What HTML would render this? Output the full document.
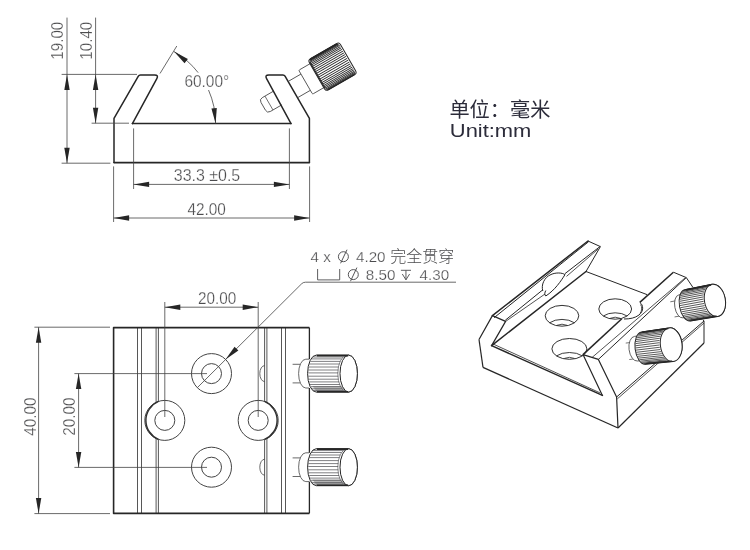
<!DOCTYPE html>
<html><head><meta charset="utf-8"><title>Dovetail clamp drawing</title>
<style>
html,body{margin:0;padding:0;background:#fff;}
body{width:750px;height:550px;overflow:hidden;}
svg{display:block;font-family:"Liberation Sans",sans-serif;}
svg{will-change:transform;}
text.d{stroke:#fff;stroke-width:0.25px;paint-order:fill stroke;}
</style></head><body>
<svg width="750" height="550" viewBox="0 0 750 550">
<rect width="750" height="550" fill="#fff"/>
<g transform="translate(332.5 66.7) rotate(-30)">
<path d="M-63 -8.3 L-76.3 -8.3 Q-79.8 -8.3 -79.8 -4.8 L-79.8 4.2 Q-79.8 7.7 -76.3 7.7 L-63 7.7" stroke="#444444" stroke-width="0.8" fill="none" />
<line x1="-73.2" y1="-8.3" x2="-73.2" y2="7.7" stroke="#444444" stroke-width="0.7" />
</g>
<path d="M114 162.6 L114 118.4 L138.36 76.2 Q139.06 75 140.44 75 L154.64 75 Q158.8 75 156.82 78.65 L132.4 123.6 " stroke="#262626" stroke-width="1.5" fill="none" stroke-linejoin="round" stroke-linecap="round"/>
<path d="M309.4 162.6 L309.4 118.4 L285.04 76.2 Q284.34 75 282.96 75 L268.76 75 Q264.6 75 266.58 78.65 L291 123.6 " stroke="#262626" stroke-width="1.5" fill="none" stroke-linejoin="round" stroke-linecap="round"/>
<line x1="132.4" y1="123.6" x2="291" y2="123.6" stroke="#262626" stroke-width="1.5" stroke-linecap="round"/>
<line x1="114" y1="162.6" x2="309.4" y2="162.6" stroke="#262626" stroke-width="1.6" stroke-linecap="round"/>
<line x1="67" y1="17.6" x2="67" y2="163.2" stroke="#444444" stroke-width="0.8" />
<line x1="95.6" y1="17.6" x2="95.6" y2="123.2" stroke="#444444" stroke-width="0.8" />
<line x1="61.6" y1="74.4" x2="137" y2="74.4" stroke="#444444" stroke-width="0.8" />
<line x1="61.6" y1="163.2" x2="110.4" y2="163.2" stroke="#444444" stroke-width="0.8" />
<line x1="91.6" y1="123.2" x2="129" y2="123.2" stroke="#444444" stroke-width="0.8" />
<polygon points="67,74.4 64.3,89.9 69.7,89.9" fill="#262626"/>
<polygon points="67,163.2 69.7,147.7 64.3,147.7" fill="#262626"/>
<polygon points="95.6,74.4 92.9,89.9 98.3,89.9" fill="#262626"/>
<polygon points="95.6,123.2 98.3,107.7 92.9,107.7" fill="#262626"/>
<text x="63.4" y="59.7" font-size="16" fill="#4c4c4e" text-anchor="start" transform="rotate(-90 63.4 59.7)" class="d" textLength="38" lengthAdjust="spacingAndGlyphs">19.00</text>
<text x="92.2" y="59.7" font-size="16" fill="#4c4c4e" text-anchor="start" transform="rotate(-90 92.2 59.7)" class="d" textLength="38" lengthAdjust="spacingAndGlyphs">10.40</text>
<line x1="160" y1="73.5" x2="176.8" y2="46" stroke="#444444" stroke-width="0.8" />
<path d="M174 51.55 A83.2 83.2 0 0 1 198.14 72.61" stroke="#444444" stroke-width="0.8" fill="none" />
<path d="M208.52 90.03 A83.2 83.2 0 0 1 215.6 123.6" stroke="#444444" stroke-width="0.8" fill="none" />
<polygon points="174,51.55 184.55,63.22 187.88,58.96" fill="#262626"/>
<polygon points="215.6,123.6 216.8,107.91 211.43,108.43" fill="#262626"/>
<text x="184.4" y="87.3" font-size="16" fill="#4c4c4e" text-anchor="start" class="d" textLength="44.8" lengthAdjust="spacingAndGlyphs">60.00°</text>
<line x1="133.6" y1="128.4" x2="133.6" y2="189" stroke="#444444" stroke-width="0.8" />
<line x1="289.4" y1="128.4" x2="289.4" y2="189" stroke="#444444" stroke-width="0.8" />
<line x1="133.6" y1="184.4" x2="289.4" y2="184.4" stroke="#444444" stroke-width="0.8" />
<polygon points="133.6,184.4 149.1,187.1 149.1,181.7" fill="#262626"/>
<polygon points="289.4,184.4 273.9,181.7 273.9,187.1" fill="#262626"/>
<text x="173.8" y="181.2" font-size="16" fill="#4c4c4e" text-anchor="start" class="d" textLength="66.4" lengthAdjust="spacingAndGlyphs">33.3 ±0.5</text>
<line x1="113.6" y1="166.4" x2="113.6" y2="222" stroke="#444444" stroke-width="0.8" />
<line x1="309.6" y1="166.4" x2="309.6" y2="222" stroke="#444444" stroke-width="0.8" />
<line x1="113.6" y1="218" x2="309.6" y2="218" stroke="#444444" stroke-width="0.8" />
<polygon points="113.6,218 129.1,220.7 129.1,215.3" fill="#262626"/>
<polygon points="309.6,218 294.1,215.3 294.1,220.7" fill="#262626"/>
<text x="187.5" y="214.8" font-size="16" fill="#4c4c4e" text-anchor="start" class="d" textLength="38.4" lengthAdjust="spacingAndGlyphs">42.00</text>
<g transform="translate(332.5 66.7) rotate(-30)">
<line x1="-45.5" y1="-9.4" x2="-31" y2="-9.4" stroke="#444444" stroke-width="0.8" />
<line x1="-45.5" y1="9.4" x2="-31" y2="9.4" stroke="#444444" stroke-width="0.8" />
<path d="M-18 -13.8 L-30 -13.8 Q-31 -13.8 -31 -12.8 L-31 12.8 Q-31 13.8 -30 13.8 L-18 13.8" stroke="#444444" stroke-width="0.8" fill="#fff" />
<path d="M-15.0 -18 L15.0 -18 Q18 -18 18 -15.0 L18 15.0 Q18 18 15.0 18 L-15.0 18 Q-18 18 -18 15.0 L-18 -15.0 Q-18 -18 -15.0 -18 Z" stroke="#262626" stroke-width="1.0" fill="#fff" />
<line x1="-15.08" y1="-17.87" x2="14.68" y2="-17.87" stroke="#262626" stroke-width="0.9" />
<line x1="-15.89" y1="-17.48" x2="15.49" y2="-17.48" stroke="#262626" stroke-width="0.9" />
<line x1="-16.58" y1="-16.83" x2="16.18" y2="-16.83" stroke="#262626" stroke-width="0.9" />
<line x1="-17.05" y1="-15.94" x2="16.65" y2="-15.94" stroke="#262626" stroke-width="0.9" />
<line x1="-17.2" y1="-14.81" x2="16.8" y2="-14.81" stroke="#262626" stroke-width="0.9" />
<line x1="-17.2" y1="-13.47" x2="16.8" y2="-13.47" stroke="#262626" stroke-width="0.9" />
<line x1="-17.2" y1="-11.94" x2="16.8" y2="-11.94" stroke="#262626" stroke-width="0.9" />
<line x1="-17.2" y1="-10.23" x2="16.8" y2="-10.23" stroke="#262626" stroke-width="0.9" />
<line x1="-17.2" y1="-8.37" x2="16.8" y2="-8.37" stroke="#262626" stroke-width="0.9" />
<line x1="-17.2" y1="-6.38" x2="16.8" y2="-6.38" stroke="#262626" stroke-width="0.9" />
<line x1="-17.2" y1="-4.31" x2="16.8" y2="-4.31" stroke="#262626" stroke-width="0.9" />
<line x1="-17.2" y1="-2.17" x2="16.8" y2="-2.17" stroke="#262626" stroke-width="0.9" />
<line x1="-17.2" y1="0" x2="16.8" y2="0" stroke="#262626" stroke-width="0.9" />
<line x1="-17.2" y1="2.17" x2="16.8" y2="2.17" stroke="#262626" stroke-width="0.9" />
<line x1="-17.2" y1="4.31" x2="16.8" y2="4.31" stroke="#262626" stroke-width="0.9" />
<line x1="-17.2" y1="6.38" x2="16.8" y2="6.38" stroke="#262626" stroke-width="0.9" />
<line x1="-17.2" y1="8.37" x2="16.8" y2="8.37" stroke="#262626" stroke-width="0.9" />
<line x1="-17.2" y1="10.23" x2="16.8" y2="10.23" stroke="#262626" stroke-width="0.9" />
<line x1="-17.2" y1="11.94" x2="16.8" y2="11.94" stroke="#262626" stroke-width="0.9" />
<line x1="-17.2" y1="13.47" x2="16.8" y2="13.47" stroke="#262626" stroke-width="0.9" />
<line x1="-17.2" y1="14.81" x2="16.8" y2="14.81" stroke="#262626" stroke-width="0.9" />
<line x1="-17.05" y1="15.94" x2="16.65" y2="15.94" stroke="#262626" stroke-width="0.9" />
<line x1="-16.58" y1="16.83" x2="16.18" y2="16.83" stroke="#262626" stroke-width="0.9" />
<line x1="-15.89" y1="17.48" x2="15.49" y2="17.48" stroke="#262626" stroke-width="0.9" />
<line x1="-15.08" y1="17.87" x2="14.68" y2="17.87" stroke="#262626" stroke-width="0.9" />
<line x1="-16" y1="-17.1" x2="15.5" y2="-17.1" stroke="#262626" stroke-width="1.3" />
<line x1="-17.2" y1="-15.5" x2="-17.2" y2="15" stroke="#262626" stroke-width="1.2" />
</g>
<line x1="137.5" y1="327.6" x2="137.5" y2="513.4" stroke="#444444" stroke-width="0.9" />
<line x1="285.5" y1="327.6" x2="285.5" y2="513.4" stroke="#444444" stroke-width="0.9" />
<line x1="141.5" y1="327.6" x2="141.5" y2="513.4" stroke="#444444" stroke-width="0.9" />
<line x1="281.5" y1="327.6" x2="281.5" y2="513.4" stroke="#444444" stroke-width="0.9" />
<line x1="156.1" y1="327.6" x2="156.1" y2="402.39" stroke="#444444" stroke-width="0.9" />
<line x1="156.1" y1="438.41" x2="156.1" y2="513.4" stroke="#444444" stroke-width="0.9" />
<line x1="266.9" y1="327.6" x2="266.9" y2="402.39" stroke="#444444" stroke-width="0.9" />
<line x1="266.9" y1="438.41" x2="266.9" y2="513.4" stroke="#444444" stroke-width="0.9" />
<line x1="158.4" y1="327.6" x2="158.4" y2="401.45" stroke="#444444" stroke-width="0.9" />
<line x1="158.4" y1="439.35" x2="158.4" y2="513.4" stroke="#444444" stroke-width="0.9" />
<line x1="264.6" y1="327.6" x2="264.6" y2="401.45" stroke="#444444" stroke-width="0.9" />
<line x1="264.6" y1="439.35" x2="264.6" y2="513.4" stroke="#444444" stroke-width="0.9" />
<circle cx="164.8" cy="420.4" r="20" fill="none" stroke="#444444" stroke-width="1"/>
<circle cx="164.8" cy="420.4" r="10" fill="none" stroke="#444444" stroke-width="1"/>
<circle cx="258.2" cy="420.4" r="20" fill="none" stroke="#444444" stroke-width="1"/>
<circle cx="258.2" cy="420.4" r="10" fill="none" stroke="#444444" stroke-width="1"/>
<circle cx="211.5" cy="373.6" r="20" fill="none" stroke="#444444" stroke-width="1"/>
<circle cx="211.5" cy="373.6" r="10" fill="none" stroke="#444444" stroke-width="1"/>
<circle cx="211.5" cy="467.2" r="20" fill="none" stroke="#444444" stroke-width="1"/>
<circle cx="211.5" cy="467.2" r="10" fill="none" stroke="#444444" stroke-width="1"/>
<path d="M158.4 401.45 A20.6 20.6 0 0 0 158.4 439.35" stroke="#303030" stroke-width="1.45" fill="none" />
<path d="M264.6 401.45 A20.6 20.6 0 0 1 264.6 439.35" stroke="#303030" stroke-width="1.45" fill="none" />
<path d="M264.6 365.6 A4.8 8 0 0 0 264.6 381.6" stroke="#444444" stroke-width="0.8" fill="none" />
<path d="M264.6 459.2 A4.8 8 0 0 0 264.6 475.2" stroke="#444444" stroke-width="0.8" fill="none" />
<path d="M309.4 327.6 L113.6 327.6 L113.6 513.4 L309.4 513.4" stroke="#262626" stroke-width="1.6" fill="none" stroke-linejoin="round"/>
<line x1="309.4" y1="327.6" x2="309.4" y2="359.2" stroke="#262626" stroke-width="1.3" />
<line x1="309.4" y1="388" x2="309.4" y2="452.8" stroke="#262626" stroke-width="1.3" />
<line x1="309.4" y1="481.6" x2="309.4" y2="513.4" stroke="#262626" stroke-width="1.3" />
<line x1="164.8" y1="302" x2="164.8" y2="417" stroke="#444444" stroke-width="0.8" />
<line x1="258.2" y1="302" x2="258.2" y2="417" stroke="#444444" stroke-width="0.8" />
<line x1="164.8" y1="307.2" x2="258.2" y2="307.2" stroke="#444444" stroke-width="0.8" />
<polygon points="164.8,307.2 180.3,309.9 180.3,304.5" fill="#262626"/>
<polygon points="258.2,307.2 242.7,304.5 242.7,309.9" fill="#262626"/>
<text x="198.1" y="304" font-size="16" fill="#4c4c4e" text-anchor="start" class="d" textLength="38.2" lengthAdjust="spacingAndGlyphs">20.00</text>
<line x1="38.6" y1="327.2" x2="38.6" y2="513.6" stroke="#444444" stroke-width="0.8" />
<line x1="34.4" y1="327.2" x2="110" y2="327.2" stroke="#444444" stroke-width="0.8" />
<line x1="34.4" y1="513.6" x2="110" y2="513.6" stroke="#444444" stroke-width="0.8" />
<polygon points="38.6,327.2 35.9,342.7 41.3,342.7" fill="#262626"/>
<polygon points="38.6,513.6 41.3,498.1 35.9,498.1" fill="#262626"/>
<text x="35.6" y="435.8" font-size="16" fill="#4c4c4e" text-anchor="start" transform="rotate(-90 35.6 435.8)" class="d" textLength="38.2" lengthAdjust="spacingAndGlyphs">40.00</text>
<line x1="78.6" y1="373.6" x2="78.6" y2="467.4" stroke="#444444" stroke-width="0.8" />
<line x1="74.4" y1="373.6" x2="207" y2="373.6" stroke="#444444" stroke-width="0.8" />
<line x1="74.4" y1="467.4" x2="207" y2="467.4" stroke="#444444" stroke-width="0.8" />
<polygon points="78.6,373.6 75.9,389.1 81.3,389.1" fill="#262626"/>
<polygon points="78.6,467.4 81.3,451.9 75.9,451.9" fill="#262626"/>
<text x="75.2" y="435.8" font-size="16" fill="#4c4c4e" text-anchor="start" transform="rotate(-90 75.2 435.8)" class="d" textLength="38.2" lengthAdjust="spacingAndGlyphs">20.00</text>
<path d="M456 282.2 L305.5 282.2 Q303 282.2 301.5 283.9 L197.3 387.7" stroke="#444444" stroke-width="0.8" fill="none" />
<polygon points="225.5,359.5 238.37,350.45 234.55,346.63" fill="#262626"/>
<line x1="292.6" y1="364.3" x2="300.2" y2="364.3" stroke="#444444" stroke-width="0.8" />
<line x1="292.6" y1="382.9" x2="300.2" y2="382.9" stroke="#444444" stroke-width="0.8" />
<path d="M309 359.2 L305.8 359.2 A7.2 14.4 0 0 0 305.8 388 L309 388" stroke="#444444" stroke-width="0.8" fill="#fff" />
<path d="M316.3 355.1 L348.7 355.1 A8.7 18.5 0 0 1 348.7 392.1 L316.3 392.1 A8.7 18.5 0 0 1 316.3 355.1 Z" stroke="#262626" stroke-width="1.0" fill="#fff" />
<path d="M312.3 385.9 L342.2 385.9 L346.7 391.6 L316.8 391.6 Z" fill="#8a8a8a" opacity="0.55"/>
<line x1="313.16" y1="357" x2="342.96" y2="357" stroke="#3a3a40" stroke-width="0.65" />
<line x1="311.72" y1="358.9" x2="341.52" y2="358.9" stroke="#3a3a40" stroke-width="0.65" />
<line x1="310.46" y1="361.4" x2="340.26" y2="361.4" stroke="#3a3a40" stroke-width="0.65" />
<line x1="309.56" y1="364" x2="339.36" y2="364" stroke="#3a3a40" stroke-width="0.65" />
<line x1="308.87" y1="367" x2="338.67" y2="367" stroke="#3a3a40" stroke-width="0.65" />
<line x1="308.47" y1="370" x2="338.27" y2="370" stroke="#3a3a40" stroke-width="0.65" />
<line x1="308.31" y1="372.9" x2="338.11" y2="372.9" stroke="#3a3a40" stroke-width="0.65" />
<line x1="308.39" y1="376.2" x2="338.19" y2="376.2" stroke="#3a3a40" stroke-width="0.65" />
<line x1="308.71" y1="379.2" x2="338.51" y2="379.2" stroke="#3a3a40" stroke-width="0.65" />
<line x1="309.22" y1="381.9" x2="339.02" y2="381.9" stroke="#3a3a40" stroke-width="0.65" />
<line x1="309.97" y1="384.5" x2="339.77" y2="384.5" stroke="#3a3a40" stroke-width="0.65" />
<line x1="310.86" y1="386.7" x2="340.66" y2="386.7" stroke="#3a3a40" stroke-width="0.65" />
<line x1="312.04" y1="388.8" x2="341.84" y2="388.8" stroke="#3a3a40" stroke-width="0.65" />
<line x1="313.36" y1="390.4" x2="343.16" y2="390.4" stroke="#3a3a40" stroke-width="0.65" />
<path d="M346.5 355.7 A8.7 17.9 0 0 0 346.5 391.5" stroke="#3a3a40" stroke-width="0.6" fill="none" />
<ellipse cx="348.7" cy="373.6" rx="8.7" ry="18.5" fill="#fff" stroke="#262626" stroke-width="1.0"/>
<line x1="316.8" y1="355.6" x2="348.2" y2="355.6" stroke="#262626" stroke-width="1.7" />
<line x1="316.8" y1="391.7" x2="348.2" y2="391.7" stroke="#262626" stroke-width="1.5" />
<line x1="292.6" y1="457.9" x2="300.2" y2="457.9" stroke="#444444" stroke-width="0.8" />
<line x1="292.6" y1="476.5" x2="300.2" y2="476.5" stroke="#444444" stroke-width="0.8" />
<path d="M309 452.8 L305.8 452.8 A7.2 14.4 0 0 0 305.8 481.6 L309 481.6" stroke="#444444" stroke-width="0.8" fill="#fff" />
<path d="M316.3 448.7 L348.7 448.7 A8.7 18.5 0 0 1 348.7 485.7 L316.3 485.7 A8.7 18.5 0 0 1 316.3 448.7 Z" stroke="#262626" stroke-width="1.0" fill="#fff" />
<path d="M312.3 479.5 L342.2 479.5 L346.7 485.2 L316.8 485.2 Z" fill="#8a8a8a" opacity="0.55"/>
<line x1="313.16" y1="450.6" x2="342.96" y2="450.6" stroke="#3a3a40" stroke-width="0.65" />
<line x1="311.72" y1="452.5" x2="341.52" y2="452.5" stroke="#3a3a40" stroke-width="0.65" />
<line x1="310.46" y1="455" x2="340.26" y2="455" stroke="#3a3a40" stroke-width="0.65" />
<line x1="309.56" y1="457.6" x2="339.36" y2="457.6" stroke="#3a3a40" stroke-width="0.65" />
<line x1="308.87" y1="460.6" x2="338.67" y2="460.6" stroke="#3a3a40" stroke-width="0.65" />
<line x1="308.47" y1="463.6" x2="338.27" y2="463.6" stroke="#3a3a40" stroke-width="0.65" />
<line x1="308.31" y1="466.5" x2="338.11" y2="466.5" stroke="#3a3a40" stroke-width="0.65" />
<line x1="308.39" y1="469.8" x2="338.19" y2="469.8" stroke="#3a3a40" stroke-width="0.65" />
<line x1="308.71" y1="472.8" x2="338.51" y2="472.8" stroke="#3a3a40" stroke-width="0.65" />
<line x1="309.22" y1="475.5" x2="339.02" y2="475.5" stroke="#3a3a40" stroke-width="0.65" />
<line x1="309.97" y1="478.1" x2="339.77" y2="478.1" stroke="#3a3a40" stroke-width="0.65" />
<line x1="310.86" y1="480.3" x2="340.66" y2="480.3" stroke="#3a3a40" stroke-width="0.65" />
<line x1="312.04" y1="482.4" x2="341.84" y2="482.4" stroke="#3a3a40" stroke-width="0.65" />
<line x1="313.36" y1="484" x2="343.16" y2="484" stroke="#3a3a40" stroke-width="0.65" />
<path d="M346.5 449.3 A8.7 17.9 0 0 0 346.5 485.1" stroke="#3a3a40" stroke-width="0.6" fill="none" />
<ellipse cx="348.7" cy="467.2" rx="8.7" ry="18.5" fill="#fff" stroke="#262626" stroke-width="1.0"/>
<line x1="316.8" y1="449.2" x2="348.2" y2="449.2" stroke="#262626" stroke-width="1.7" />
<line x1="316.8" y1="485.3" x2="348.2" y2="485.3" stroke="#262626" stroke-width="1.5" />
<text x="449.4" y="117.2" font-size="20.2" fill="#2c2c3a" text-anchor="start" style="font-family:'Liberation Sans','Noto Sans CJK SC',sans-serif">单位：毫米</text>
<text x="449.8" y="137" font-size="19" fill="#2c2c3a" text-anchor="start" textLength="81.6" lengthAdjust="spacingAndGlyphs">Unit:mm</text>
<text x="310.6" y="262.2" font-size="15.2" fill="#4c4c4e" text-anchor="start" class="d">4 x</text>
<circle cx="343.4" cy="256.7" r="5" fill="none" stroke="#4c4c4e" stroke-width="0.95"/>
<line x1="340.6" y1="263.3" x2="347" y2="249.7" stroke="#4c4c4e" stroke-width="0.95" />
<text x="356" y="262.2" font-size="15.2" fill="#4c4c4e" text-anchor="start" class="d">4.20</text>
<text x="390.3" y="261.6" font-size="16" fill="#4c4c4e" text-anchor="start" style="font-family:'Liberation Sans','Noto Sans CJK SC',sans-serif;font-weight:300">完全贯穿</text>
<path d="M317.6 269 L317.6 279.9 L339.7 279.9 L339.7 269" stroke="#4c4c4e" stroke-width="0.9" fill="none" />
<circle cx="353.3" cy="274.6" r="5" fill="none" stroke="#4c4c4e" stroke-width="0.95"/>
<line x1="350.5" y1="281.2" x2="356.9" y2="267.6" stroke="#4c4c4e" stroke-width="0.95" />
<text x="365.8" y="279.7" font-size="15.2" fill="#4c4c4e" text-anchor="start" class="d">8.50</text>
<path d="M400.9 270.3 L411 270.3 M405.95 270.3 L405.95 279.8 M402.3 274 L405.95 279.8 L409.6 274" stroke="#4c4c4e" stroke-width="0.9" fill="none" />
<text x="419.6" y="279.7" font-size="15.2" fill="#4c4c4e" text-anchor="start" class="d">4.30</text>
<path d="M586 271.5 L647 294.6" stroke="#262626" stroke-width="1.0" fill="none" />
<ellipse cx="562" cy="315.8" rx="16.8" ry="10.4" fill="#fff" stroke="#262626" stroke-width="0.95"/>
<path d="M549.58 322.8 A16.8 10.4 0 0 1 574.42 322.8" stroke="#262626" stroke-width="0.9" fill="none" />
<path d="M557 325.3 A8.4 5 0 0 1 567 325.3" stroke="#262626" stroke-width="0.8" fill="none" />
<ellipse cx="615.2" cy="309" rx="16.4" ry="10.2" fill="#fff" stroke="#262626" stroke-width="0.95"/>
<path d="M603.27 316 A16.4 10.2 0 0 1 627.13 316" stroke="#262626" stroke-width="0.9" fill="none" />
<path d="M610.2 318.3 A8.4 5 0 0 1 620.2 318.3" stroke="#262626" stroke-width="0.8" fill="none" />
<ellipse cx="569.4" cy="348.9" rx="17.5" ry="10.4" fill="#fff" stroke="#262626" stroke-width="0.95"/>
<path d="M556.46 355.9 A17.5 10.4 0 0 1 582.34 355.9" stroke="#262626" stroke-width="0.9" fill="none" />
<path d="M564.4 358.4 A8.4 5 0 0 1 574.4 358.4" stroke="#262626" stroke-width="0.8" fill="none" />
<path d="M492.4 315.6 L588 241" stroke="#262626" stroke-width="1.5" fill="none" stroke-linecap="round"/>
<path d="M494.1 317.7 L588.5 241.8" stroke="#262626" stroke-width="1.0" fill="none" />
<path d="M505.3 320.2 L542.8 289.8" stroke="#262626" stroke-width="1.0" fill="none" />
<path d="M565 273.6 L600.2 246.4" stroke="#262626" stroke-width="1.0" fill="none" />
<path d="M505.6 321.4 L545 294" stroke="#262626" stroke-width="0.8" fill="none" />
<path d="M566.5 276.4 L598 249.2" stroke="#262626" stroke-width="0.8" fill="none" />
<path d="M542.8 291 C541 285 544 277.5 551 274.5 C556 272.3 562 272.6 565 274.6 C561 281 555 290 545.8 296 C544.3 295 544.6 292.5 545.8 290.5" stroke="#262626" stroke-width="1.0" fill="none" />
<path d="M491.6 345.6 L586 271.5" stroke="#262626" stroke-width="1.5" fill="none" stroke-linecap="round"/>
<path d="M588 241 L600.4 246.6 L586 271.5" stroke="#262626" stroke-width="1.0" fill="none" stroke-linejoin="round"/>
<path d="M479 339.5 L492.4 315.6 L505.6 321.4 L491.6 345.6" stroke="#262626" stroke-width="1.2" fill="none" stroke-linejoin="round"/>
<path d="M479 339.5 L483 367.4" stroke="#262626" stroke-width="1.2" fill="none" />
<path d="M491.6 345.6 L602.4 395.4" stroke="#262626" stroke-width="1.5" fill="none" stroke-linecap="round"/>
<path d="M493.1 344 L599.9 392.8" stroke="#262626" stroke-width="0.8" fill="none" />
<path d="M483 367.4 L618 428" stroke="#262626" stroke-width="1.3" fill="none" />
<path d="M602.4 395.4 L583 354.6 L598.4 359.4 L616.6 397 L618 428" stroke="#262626" stroke-width="1.2" fill="none" stroke-linejoin="round"/>
<path d="M583 354.6 L621.8 318.8" stroke="#262626" stroke-width="1.5" fill="none" />
<path d="M639.8 302.4 L673.4 272.2" stroke="#262626" stroke-width="1.5" fill="none" />
<path d="M639.8 302.4 C643.5 305 644 311 639 315 C635 318 630 319 624 319" stroke="#262626" stroke-width="1.0" fill="none" />
<path d="M640.6 304.5 C642.3 307 642 311 640 313.5" stroke="#262626" stroke-width="0.8" fill="none" />
<path d="M592 357.5 L685 278" stroke="#262626" stroke-width="0.8" fill="none" />
<path d="M598.4 359.4 L686.3 277.6" stroke="#262626" stroke-width="1.0" fill="none" />
<path d="M673.4 272.2 L686.3 277.6" stroke="#262626" stroke-width="1.0" fill="none" />
<path d="M686.3 277.6 L692.8 287.2" stroke="#262626" stroke-width="1.0" fill="none" />
<path d="M703.2 320 L704 321 L704 343" stroke="#262626" stroke-width="1.0" fill="none" />
<path d="M616.6 397 L704 321" stroke="#262626" stroke-width="1.0" fill="none" />
<path d="M617.4 398.8 L704 323" stroke="#262626" stroke-width="0.8" fill="none" />
<path d="M618 428 L704 343" stroke="#262626" stroke-width="1.2" fill="none" />
<g transform="translate(680.8 306.4) rotate(-10.21)">
<line x1="-9.5" y1="-6.38" x2="-4" y2="-6.38" stroke="#444444" stroke-width="0.7" />
<line x1="-8" y1="9.28" x2="-2.5" y2="9.28" stroke="#444444" stroke-width="0.7" />
<path d="M4 -11.6 L0 -11.6 A6 11.6 0 0 0 0 11.6 L4 11.6" stroke="#444444" stroke-width="0.8" fill="#fff" />
</g>
<g transform="translate(687.7 305.3) rotate(-10.21)">
<path d="M0 -15.9 L27.64 -16.3 A10.43 16.3 0 0 1 27.64 16.3 L0 15.9 A8.27 15.9 0 0 1 0 -15.9 Z" stroke="#262626" stroke-width="1.0" fill="#fff" />
<line x1="0.6" y1="-15.9" x2="26.84" y2="-16.3" stroke="#262626" stroke-width="0.72" />
<line x1="-0.53" y1="-15.75" x2="25.42" y2="-16.15" stroke="#262626" stroke-width="0.72" />
<line x1="-1.63" y1="-15.31" x2="24.02" y2="-15.7" stroke="#262626" stroke-width="0.72" />
<line x1="-2.69" y1="-14.58" x2="22.68" y2="-14.95" stroke="#262626" stroke-width="0.72" />
<line x1="-3.7" y1="-13.59" x2="21.42" y2="-13.93" stroke="#262626" stroke-width="0.72" />
<line x1="-4.62" y1="-12.33" x2="20.25" y2="-12.64" stroke="#262626" stroke-width="0.72" />
<line x1="-5.44" y1="-10.85" x2="19.21" y2="-11.13" stroke="#262626" stroke-width="0.72" />
<line x1="-6.15" y1="-9.17" x2="18.32" y2="-9.4" stroke="#262626" stroke-width="0.72" />
<line x1="-6.74" y1="-7.32" x2="17.58" y2="-7.5" stroke="#262626" stroke-width="0.72" />
<line x1="-7.19" y1="-5.32" x2="17.01" y2="-5.46" stroke="#262626" stroke-width="0.72" />
<line x1="-7.5" y1="-3.23" x2="16.62" y2="-3.32" stroke="#262626" stroke-width="0.72" />
<line x1="-7.65" y1="-1.09" x2="16.43" y2="-1.11" stroke="#262626" stroke-width="0.72" />
<line x1="-7.65" y1="1.09" x2="16.43" y2="1.11" stroke="#262626" stroke-width="0.72" />
<line x1="-7.5" y1="3.23" x2="16.62" y2="3.32" stroke="#262626" stroke-width="0.72" />
<line x1="-7.19" y1="5.32" x2="17.01" y2="5.46" stroke="#262626" stroke-width="0.72" />
<line x1="-6.74" y1="7.32" x2="17.58" y2="7.5" stroke="#262626" stroke-width="0.72" />
<line x1="-6.15" y1="9.17" x2="18.32" y2="9.4" stroke="#262626" stroke-width="0.72" />
<line x1="-5.44" y1="10.85" x2="19.21" y2="11.13" stroke="#262626" stroke-width="0.72" />
<line x1="-4.62" y1="12.33" x2="20.25" y2="12.64" stroke="#262626" stroke-width="0.72" />
<line x1="-3.7" y1="13.59" x2="21.42" y2="13.93" stroke="#262626" stroke-width="0.72" />
<line x1="-2.69" y1="14.58" x2="22.68" y2="14.95" stroke="#262626" stroke-width="0.72" />
<line x1="-1.63" y1="15.31" x2="24.02" y2="15.7" stroke="#262626" stroke-width="0.72" />
<line x1="-0.53" y1="15.75" x2="25.42" y2="16.15" stroke="#262626" stroke-width="0.72" />
<ellipse cx="27.64" cy="0" rx="10.43" ry="16.3" fill="#fff" stroke="#262626" stroke-width="1.0"/>
<line x1="1" y1="-15.3" x2="26.64" y2="-15.7" stroke="#262626" stroke-width="1.2" />
<line x1="1" y1="15.3" x2="26.64" y2="15.7" stroke="#262626" stroke-width="1.2" />
</g>
<g transform="translate(636 348.7) rotate(-7)">
<line x1="-9.5" y1="-6.82" x2="-4" y2="-6.82" stroke="#444444" stroke-width="0.7" />
<line x1="-8" y1="9.92" x2="-2.5" y2="9.92" stroke="#444444" stroke-width="0.7" />
<path d="M4 -12.4 L0 -12.4 A7 12.4 0 0 0 0 12.4 L4 12.4" stroke="#444444" stroke-width="0.8" fill="#fff" />
</g>
<g transform="translate(643.5 348.1) rotate(-7)">
<path d="M0 -16.2 L27.91 -16.9 A10.82 16.9 0 0 1 27.91 16.9 L0 16.2 A8.42 16.2 0 0 1 0 -16.2 Z" stroke="#262626" stroke-width="1.0" fill="#fff" />
<line x1="0.6" y1="-16.2" x2="27.11" y2="-16.9" stroke="#262626" stroke-width="0.72" />
<line x1="-0.55" y1="-16.05" x2="25.64" y2="-16.74" stroke="#262626" stroke-width="0.72" />
<line x1="-1.67" y1="-15.6" x2="24.19" y2="-16.27" stroke="#262626" stroke-width="0.72" />
<line x1="-2.76" y1="-14.86" x2="22.8" y2="-15.5" stroke="#262626" stroke-width="0.72" />
<line x1="-3.78" y1="-13.84" x2="21.49" y2="-14.44" stroke="#262626" stroke-width="0.72" />
<line x1="-4.72" y1="-12.57" x2="20.28" y2="-13.11" stroke="#262626" stroke-width="0.72" />
<line x1="-5.56" y1="-11.06" x2="19.2" y2="-11.54" stroke="#262626" stroke-width="0.72" />
<line x1="-6.28" y1="-9.34" x2="18.27" y2="-9.75" stroke="#262626" stroke-width="0.72" />
<line x1="-6.88" y1="-7.45" x2="17.5" y2="-7.78" stroke="#262626" stroke-width="0.72" />
<line x1="-7.34" y1="-5.43" x2="16.92" y2="-5.66" stroke="#262626" stroke-width="0.72" />
<line x1="-7.65" y1="-3.3" x2="16.52" y2="-3.44" stroke="#262626" stroke-width="0.72" />
<line x1="-7.8" y1="-1.11" x2="16.32" y2="-1.15" stroke="#262626" stroke-width="0.72" />
<line x1="-7.8" y1="1.11" x2="16.32" y2="1.15" stroke="#262626" stroke-width="0.72" />
<line x1="-7.65" y1="3.3" x2="16.52" y2="3.44" stroke="#262626" stroke-width="0.72" />
<line x1="-7.34" y1="5.43" x2="16.92" y2="5.66" stroke="#262626" stroke-width="0.72" />
<line x1="-6.88" y1="7.45" x2="17.5" y2="7.78" stroke="#262626" stroke-width="0.72" />
<line x1="-6.28" y1="9.34" x2="18.27" y2="9.75" stroke="#262626" stroke-width="0.72" />
<line x1="-5.56" y1="11.06" x2="19.2" y2="11.54" stroke="#262626" stroke-width="0.72" />
<line x1="-4.72" y1="12.57" x2="20.28" y2="13.11" stroke="#262626" stroke-width="0.72" />
<line x1="-3.78" y1="13.84" x2="21.49" y2="14.44" stroke="#262626" stroke-width="0.72" />
<line x1="-2.76" y1="14.86" x2="22.8" y2="15.5" stroke="#262626" stroke-width="0.72" />
<line x1="-1.67" y1="15.6" x2="24.19" y2="16.27" stroke="#262626" stroke-width="0.72" />
<line x1="-0.55" y1="16.05" x2="25.64" y2="16.74" stroke="#262626" stroke-width="0.72" />
<ellipse cx="27.91" cy="0" rx="10.82" ry="16.9" fill="#fff" stroke="#262626" stroke-width="1.0"/>
<line x1="1" y1="-15.6" x2="26.91" y2="-16.3" stroke="#262626" stroke-width="1.2" />
<line x1="1" y1="15.6" x2="26.91" y2="16.3" stroke="#262626" stroke-width="1.2" />
</g>
</svg>
</body></html>
